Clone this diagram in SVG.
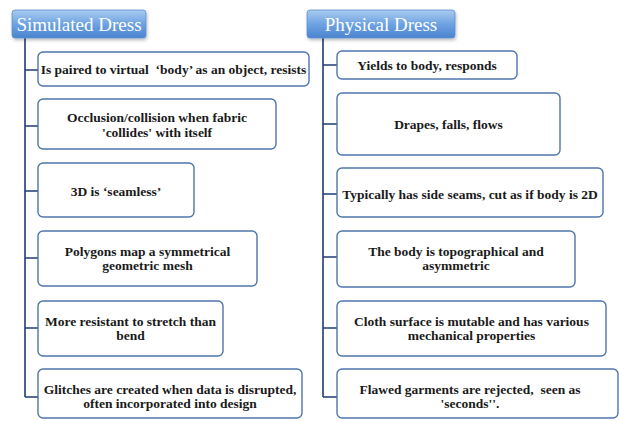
<svg xmlns="http://www.w3.org/2000/svg" width="619" height="421" viewBox="0 0 619 421">
<defs>
<linearGradient id="hg" x1="0" y1="0" x2="0" y2="1">
<stop offset="0" stop-color="#a9cbf0"/>
<stop offset="0.5" stop-color="#6fa3e2"/>
<stop offset="1" stop-color="#4a84cf"/>
</linearGradient>
<filter id="sh" x="-10%" y="-10%" width="130%" height="140%">
<feDropShadow dx="1" dy="2" stdDeviation="1.5" flood-color="#000" flood-opacity="0.25"/>
</filter>
</defs>
<style>
.hd{fill:url(#hg);stroke:#5c8fd0;stroke-width:0.8}
.ht{font-family:"Liberation Serif","DejaVu Serif",serif;font-size:19px;fill:#fff;text-anchor:middle}
.bx{fill:#fff;stroke:#4f75aa;stroke-width:1.4}
.t{font-family:"Liberation Serif","DejaVu Serif",serif;font-size:13.5px;font-weight:bold;fill:#1a1a1a;text-anchor:middle;white-space:pre}
.ln{stroke:#1f3d75;stroke-width:1.6;fill:none}
</style>
<rect width="619" height="421" fill="#fff"/>
<g id="connectors">
<path class="ln" d="M25 38V397M25 70H38M25 126H38M25 191H38M25 258H38M25 328H38M25 397H38"/>
<path class="ln" d="M323 38V397M323 65H337M323 124H337M323 194H337M323 257H337M323 328H337M323 397H337"/>
</g>
<g id="h-sim">
<rect class="hd" x="12" y="10" width="134" height="28" rx="3" filter="url(#sh)"/>
<text class="ht" x="79" y="31">Simulated Dress</text>
</g>
<g id="h-phys">
<rect class="hd" x="307" y="10" width="148" height="28" rx="3" filter="url(#sh)"/>
<text class="ht" x="381" y="31">Physical Dress</text>
</g>
<g id="s1"><rect class="bx" x="38" y="52" width="271" height="34" rx="5"/>
<text class="t" x="173.5" y="74">Is paired to virtual  ‘body’ as an object, resists</text></g>
<g id="s2"><rect class="bx" x="38" y="99" width="238" height="50" rx="5"/>
<text class="t" x="157" y="122">Occlusion/collision when fabric</text>
<text class="t" x="157" y="136.5">'collides' with itself</text></g>
<g id="s3"><rect class="bx" x="38" y="163" width="156" height="54" rx="5"/>
<text class="t" x="116" y="196">3D is ‘seamless’</text></g>
<g id="s4"><rect class="bx" x="38" y="231" width="219" height="55" rx="5"/>
<text class="t" x="147.5" y="255.5">Polygons map a symmetrical</text>
<text class="t" x="147.5" y="270">geometric mesh</text></g>
<g id="s5"><rect class="bx" x="38" y="301" width="185" height="55" rx="5"/>
<text class="t" x="130.5" y="325.5">More resistant to stretch than</text>
<text class="t" x="130.5" y="340">bend</text></g>
<g id="s6"><rect class="bx" x="38" y="369" width="264" height="49" rx="5"/>
<text class="t" x="170" y="393.5">Glitches are created when data is disrupted,</text>
<text class="t" x="170" y="408">often incorporated into design</text></g>
<g id="p1"><rect class="bx" x="337" y="51" width="180" height="28" rx="5"/>
<text class="t" x="427" y="69.5">Yields to body, responds</text></g>
<g id="p2"><rect class="bx" x="337" y="93" width="223" height="62" rx="5"/>
<text class="t" x="448.5" y="129">Drapes, falls, flows</text></g>
<g id="p3"><rect class="bx" x="337" y="168" width="266" height="49" rx="5"/>
<text class="t" x="470" y="199">Typically has side seams, cut as if body is 2D</text></g>
<g id="p4"><rect class="bx" x="337" y="231" width="238" height="56" rx="5"/>
<text class="t" x="456" y="255.5">The body is topographical and</text>
<text class="t" x="456" y="270">asymmetric</text></g>
<g id="p5"><rect class="bx" x="337" y="301" width="269" height="55" rx="5"/>
<text class="t" x="471.5" y="325.5">Cloth surface is mutable and has various</text>
<text class="t" x="471.5" y="340">mechanical properties</text></g>
<g id="p6"><rect class="bx" x="337" y="369" width="281" height="49" rx="5"/>
<text class="t" x="470" y="393.5">Flawed garments are rejected,  seen as</text>
<text class="t" x="470" y="408">'seconds''.</text></g>
</svg>
